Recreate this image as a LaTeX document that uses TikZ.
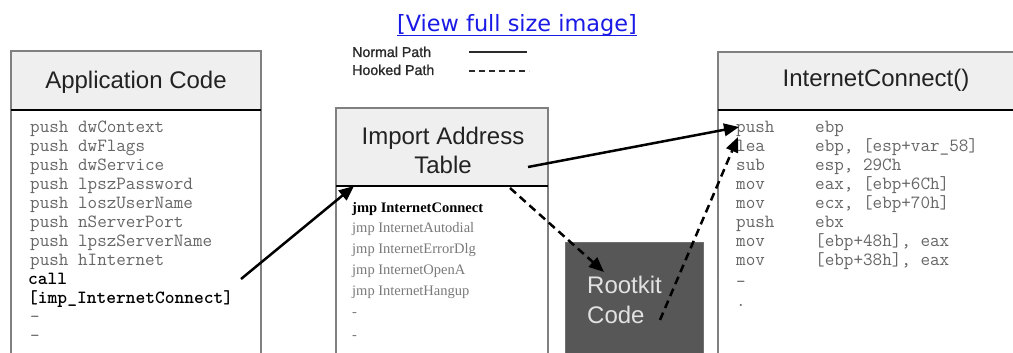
\documentclass[tikz,border=0pt]{standalone}
\usepackage{fontspec}
\setmainfont{Liberation Sans}
\newfontfamily\listfont{Liberation Serif}
\newfontfamily\linkfont{DejaVu Sans}
\newfontfamily\legendfont{Liberation Sans}[FakeBold=1.2]
\usetikzlibrary{arrows.meta,calc}
\definecolor{boxline}{HTML}{808080}
\definecolor{headfill}{HTML}{EFEFEF}
\definecolor{codegray}{HTML}{666666}
\definecolor{listgray}{HTML}{7A7A7A}
\definecolor{rootfill}{HTML}{575757}
\definecolor{roottext}{HTML}{E2E2E2}
\definecolor{linkblue}{HTML}{1A1AE6}
\definecolor{titlecol}{HTML}{222222}
\definecolor{legendcol}{HTML}{2A2A2A}
\begin{document}
\begin{tikzpicture}[x=1pt,y=-1pt,
  panel/.style={draw=boxline,line width=1.7pt,anchor=north west,inner sep=0pt,outer sep=0pt},
  head/.style={draw=boxline,fill=headfill,line width=1.7pt,anchor=north west,inner sep=0pt,outer sep=0pt},
  sepline/.style={draw=black,line width=1.6pt},
  title/.style={font=\fontsize{24}{29}\selectfont,text=titlecol,inner sep=0pt,align=center},
  code/.style={font=\ttfamily\fontsize{18.6}{19}\selectfont,text=codegray,anchor=base west,inner sep=0pt},
  codebold/.style={font=\ttfamily\bfseries\fontsize{18.6}{19}\selectfont,text=black,anchor=base west,inner sep=0pt},
  iatitem/.style={font=\listfont\fontsize{14.5}{17}\selectfont,text=listgray,anchor=base west,inner sep=0pt},
  iatbold/.style={font=\listfont\bfseries\fontsize{14.5}{17}\selectfont,text=black,anchor=base west,inner sep=0pt},
  legendtext/.style={font=\legendfont\fontsize{14.2}{16}\selectfont,text=legendcol,anchor=base west,inner sep=0pt},
  normalpath/.style={line width=2.5pt,-{Triangle[length=15pt,width=12.5pt]}},
  hookedpath/.style={normalpath,dash pattern=on 8pt off 5pt},
  legendline/.style={line width=1.6pt,draw=legendcol}
]
\useasboundingbox (0,0) rectangle (1013,353);
\fill[white] (0,0) rectangle (1013,353);
\clip (0,0) rectangle (1013,353);

% link
\node[font=\linkfont\fontsize{22.4}{25}\selectfont,text=linkblue,anchor=base,inner sep=0pt] (link) at (517,32) {[View full size image]};
\draw[linkblue,line width=1pt] ([yshift=-3.5pt]link.base west) -- ([yshift=-3.5pt]link.base east);

% legend
\node[legendtext] (lnormal) at (352,57) {Normal Path};
\node[legendtext] (lhooked) at (352,75) {Hooked Path};
\coordinate (ln1) at (469,52);
\coordinate (ln2) at (527,52);
\coordinate (lh1) at (469,71);
\coordinate (lh2) at (529,71);
\draw[legendline] (ln1) -- (ln2);
\draw[legendline,dash pattern=on 6pt off 4pt] (lh1) -- (lh2);

% Application Code box
\node[panel,minimum width=250pt,minimum height=320pt] (app) at (11,51) {};
\node[head,minimum width=250pt,minimum height=59pt] (apphead) at (11,51) {};
\draw[sepline] (apphead.south west) -- (apphead.south east);
\node[title] (apptitle) at (136,82) {Application Code};
\foreach \t [count=\i] in {push dwContext,push dwFlags,push dwService,push lpszPassword,push loszUserName,push nServerPort,push lpszServerName,push hInternet}
  \node[code] (appl\i) at (30,113+19*\i) {\t};
\node[codebold] (appcall) at (28,284) {call};
\node[codebold] (appimp) at (28,303) {[imp\_InternetConnect]};
\node[code] (appd1) at (30,322) {-};
\node[code] (appd2) at (30,341) {-};

% Import Address Table box
\node[panel,minimum width=212pt,minimum height=260pt] (iat) at (336,108) {};
\node[head,minimum width=212pt,minimum height=78pt] (iathead) at (336,108) {};
\draw[sepline] (iathead.south west) -- (iathead.south east);
\node[title] (iattitle) at (443,150) {Import Address\\Table};
\node[iatbold] (iat1) at (352,212) {jmp InternetConnect};
\foreach \t [count=\i from 2] in {jmp InternetAutodial,jmp InternetErrorDlg,jmp InternetOpenA,jmp InternetHangup}
  \node[iatitem] (iat\i) at (352,191+20.8*\i) {\t};
\node[iatitem] (iatd1) at (352,316) {-};
\node[iatitem] (iatd2) at (352,339) {-};

% Rootkit box
\node[anchor=north west,fill=rootfill,draw=rootfill!85!white,line width=1pt,minimum width=138pt,minimum height=130pt,inner sep=0pt] (rk) at (565,242) {};
\node[font=\fontsize{24}{30}\selectfont,text=roottext,align=left,anchor=west,inner sep=0pt] (rktext) at (587,300) {Rootkit\\Code};

% InternetConnect box
\node[panel,minimum width=310pt,minimum height=320pt] (ic) at (718,52) {};
\node[head,minimum width=310pt,minimum height=58pt] (ichead) at (718,52) {};
\draw[sepline] (ichead.south west) -- (ichead.south east);
\node[title] (ictitle) at (876,80) {InternetConnect()};
\foreach \a/\b [count=\i] in {push/ebp,lea/{ebp, [esp+var\_58]},sub/{esp, 29Ch},mov/{eax, [ebp+6Ch]},mov/{ecx, [ebp+70h]},push/ebx,mov/{[ebp+48h], eax},mov/{[ebp+38h], eax}}{
  \node[code] (icop\i) at (736,113+19.1*\i) {\a};
  \node[code] (icarg\i) at (815,113+19.1*\i) {\b};
}
\node[code] (icd1) at (736,287) {-};
\node[code] (icd2) at (736,306) {.};

% connectors
\coordinate (callpt) at (241,279);
\coordinate (iatin) at (354,186);
\coordinate (iatout) at (528,167);
\coordinate (icin) at (739,127);
\coordinate (iathook) at (510,188);
\coordinate (rkin) at (604,272);
\coordinate (rkout) at (660,320);
\coordinate (ichook) at (738,137);
\draw[normalpath] (callpt) -- (iatin);
\draw[normalpath] (iatout) -- (icin);
\draw[hookedpath] (iathook) -- (rkin);
\draw[hookedpath] (rkout) -- (ichook);
\end{tikzpicture}
\end{document}
